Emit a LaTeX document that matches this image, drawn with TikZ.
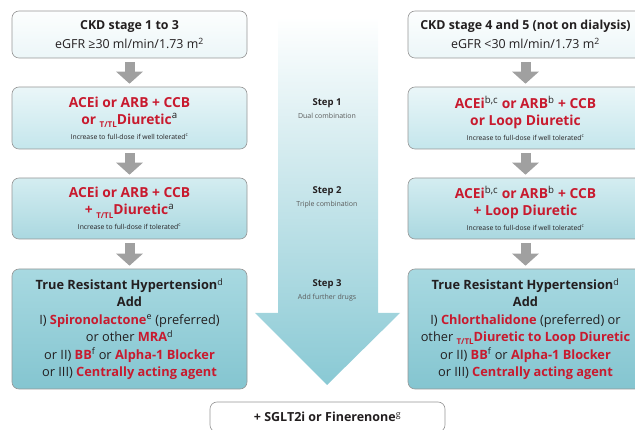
\documentclass[tikz,border=0pt]{standalone}
\usepackage{fontspec}
\setmainfont{Open Sans}
\usetikzlibrary{arrows.meta}

\definecolor{drugred}{RGB}{200,26,46}
\definecolor{inktext}{RGB}{35,31,32}
\definecolor{notegray}{RGB}{90,90,90}
\definecolor{boxline}{RGB}{150,150,150}
\definecolor{flowgray}{RGB}{160,160,160}
\definecolor{arrowteal}{RGB}{137,201,212}
\definecolor{topA}{RGB}{252,254,254}
\definecolor{botA}{RGB}{236,246,248}
\definecolor{topB}{RGB}{234,246,248}
\definecolor{botB}{RGB}{196,230,236}
\definecolor{topC}{RGB}{212,237,241}
\definecolor{botC}{RGB}{170,216,224}
\definecolor{topD}{RGB}{168,217,225}
\definecolor{botD}{RGB}{132,197,208}

\newcommand{\rd}[1]{\textbf{\color{drugred}#1}}
\newcommand{\fn}[1]{\textsuperscript{\normalfont\color{inktext}#1}}
\newcommand{\ttl}{\raisebox{-0.45ex}{\fontsize{8}{8}\selectfont T/TL}}
\newcommand{\note}[1]{{\fontsize{6.8}{9}\selectfont\color{inktext}#1}}

\tikzset{
  stage/.style={draw=boxline, line width=0.6pt, rounded corners=7pt,
    minimum width=235pt, align=center, inner sep=2pt, text=inktext},
  ckd/.style={stage, top color=topA, bottom color=botA, minimum height=47pt,
    font=\fontsize{12.4}{19}\selectfont},
  dual/.style={stage, top color=topB, bottom color=botB, minimum height=62pt,
    font=\fontsize{13.8}{17}\selectfont},
  triple/.style={stage, top color=topC, bottom color=botC, minimum height=61pt,
    font=\fontsize{13.8}{17}\selectfont},
  resist/.style={stage, top color=topD, bottom color=botD, minimum height=120pt,
    font=\fontsize{12.8}{17.4}\selectfont},
  steplabel/.style={align=center, text=inktext, font=\fontsize{9.5}{15}\selectfont},
  flow/.style={draw=flowgray, line width=10pt, shorten <=4pt, shorten >=3pt,
    -{Triangle[width=26pt,length=12pt]}}
}

\begin{document}
\begin{tikzpicture}[x=1pt,y=-1pt]
\clip (0,0) rectangle (635,430);

% big step arrow in the middle
\shade[top color=white, bottom color=arrowteal]
  (278,17) -- (378,17) -- (378,313) -- (400,313) -- (327,385) -- (255,313) -- (278,313) -- cycle;

\node[steplabel] (s1) at (327,109) {\textbf{Step 1}\\[-2pt]{\fontsize{7}{9}\selectfont\color{notegray}Dual combination}};
\node[steplabel] (s2) at (327,197) {\textbf{Step 2}\\[-2pt]{\fontsize{7}{9}\selectfont\color{notegray}Triple combination}};
\node[steplabel] (s3) at (327,290) {\textbf{Step 3}\\[-2pt]{\fontsize{7}{9}\selectfont\color{notegray}Add further drugs}};

% left column
\node[ckd] (l1) at (129.5,34.5) {\textbf{CKD stage 1 to 3}\\eGFR ≥30 ml/min/1.73 m\textsuperscript{2}};
\node[dual] (l2) at (129.5,118) {\rd{ACEi or ARB + CCB}\\\rd{or \ttl Diuretic}\fn{a}\\[-2pt]\note{Increase to full-dose if well tolerated\fn{c}}};
\node[triple] (l3) at (129.5,208.5) {\rd{ACEi or ARB + CCB}\\\rd{+ \ttl Diuretic}\fn{a}\\[-2pt]\note{Increase to full-dose if tolerated\fn{c}}};
\node[resist] (l4) at (129.5,329) {\textbf{True Resistant Hypertension}\fn{d}\\\textbf{Add}\\
  I) \rd{Spironolactone}\fn{e} (preferred)\\or other \rd{MRA}\fn{d}\\
  or II) \rd{BB}\fn{f} or \rd{Alpha-1 Blocker}\\or III) \rd{Centrally acting agent}};

% right column
\node[ckd] (r1) at (525.5,34.5) {\textbf{CKD stage 4 and 5 (not on dialysis)}\\eGFR <30 ml/min/1.73 m\textsuperscript{2}};
\node[dual] (r2) at (525.5,118) {\rd{ACEi}\fn{b,c} \rd{or ARB}\fn{b} \rd{+ CCB}\\\rd{or Loop Diuretic}\\[-2pt]\note{Increase to full-dose if well tolerated\fn{c}}};
\node[triple] (r3) at (525.5,208.5) {\rd{ACEi}\fn{b,c} \rd{or ARB}\fn{b} \rd{+ CCB}\\\rd{+ Loop Diuretic}\\[-2pt]\note{Increase to full-dose if well tolerated\fn{c}}};
\node[resist] (r4) at (525.5,329) {\textbf{True Resistant Hypertension}\fn{d}\\\textbf{Add}\\
  I) \rd{Chlorthalidone} (preferred) or\\other \rd{\ttl Diuretic to Loop Diuretic}\\
  or II) \rd{BB}\fn{f} or \rd{Alpha-1 Blocker}\\or III) \rd{Centrally acting agent}};

% bottom box
\node[stage, fill=white, minimum height=30pt, font=\fontsize{12.5}{15}\selectfont] (sg) at (327.5,417)
  {\textbf{+ SGLT2i or Finerenone}\textsuperscript{g}};

\draw[flow] (l1.south) -- (l2.north);
\draw[flow] (l2.south) -- (l3.north);
\draw[flow] (l3.south) -- (l4.north);
\draw[flow] (r1.south) -- (r2.north);
\draw[flow] (r2.south) -- (r3.north);
\draw[flow] (r3.south) -- (r4.north);

\end{tikzpicture}
\end{document}
